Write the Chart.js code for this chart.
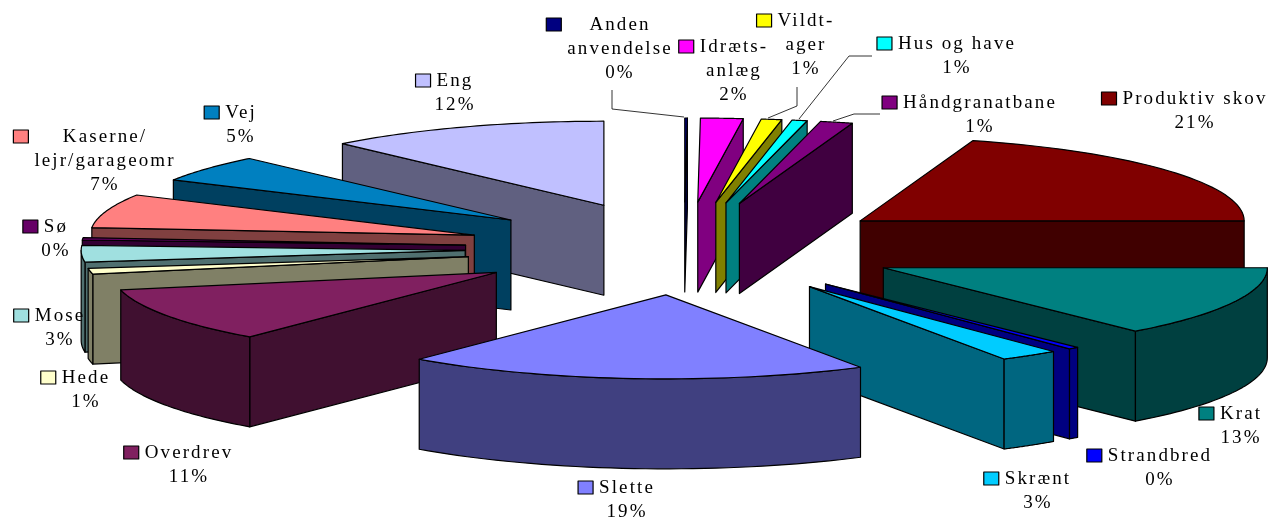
<!DOCTYPE html>
<html lang="da">
<head>
    <meta charset="UTF-8">
    <title>Arealanvendelse</title>
    <script src="https://cdn.jsdelivr.net/npm/chart.js"></script>
    <style>
        html, body {
            margin: 0;
            padding: 0;
            background-color: #ffffff;
        }

        #wrap {
            position: relative;
            width: 1269px;
            height: 518px;
            overflow: hidden;
        }
    </style>
</head>
<body>
    <div id="wrap">
        <canvas id="myChart" width="1269" height="518"></canvas>
    </div>

    <script>
        // data, clockwise from twelve o'clock
        const categories = [
            ['Anden', 'anvendelse'], ['Idræts-', 'anlæg'], ['Vildt-', 'ager'], ['Hus og have'],
            ['Håndgranatbane'], ['Produktiv skov'], ['Krat'], ['Strandbred'], ['Skrænt'],
            ['Slette'], ['Overdrev'], ['Hede'], ['Mose'], ['Sø'],
            ['Kaserne/', 'lejr/garageomr'], ['Vej'], ['Eng']
        ];
        // slice sizes as measured in the picture, the printed percentages are below
        const shares = [0.11, 1.78, 0.86, 0.64, 1.36, 20.25, 13.6, 0.44, 2.5, 19.56, 10.56, 1.1, 3.2, 0.45, 6.5, 5.17, 11.92];
        const percentLabels = ['0%', '2%', '1%', '1%', '1%', '21%', '13%', '0%', '3%', '19%', '11%', '1%', '3%', '0%', '7%', '5%', '12%'];
        const colors = [
            '#000080', '#ff00ff', '#ffff00', '#00ffff', '#800080', '#800000', '#008080', '#0000ff',
            '#00ccff', '#8080ff', '#802060', '#ffffcc', '#a0e0e0', '#660066', '#ff8080', '#0080c0', '#c0c0ff'
        ];

        // where the labels sit: [centre x, y of first line]
        const labelSpots = [
            [620, 25], [734, 47], [806, 21], [957, 44], [980, 103], [1195, 99], [1241, 414], [1160, 456],
            [1038, 479], [627, 488], [189, 453], [86, 378], [60, 316], [56, 227], [105, 137], [241, 113], [455, 81]
        ];
        const leaderLines = [
            [[612, 90], [612, 109], [684, 117]],
            [[797, 87], [797, 106], [768, 118]],
            [[872, 56], [849, 56], [799, 119]],
            [[880, 114], [854, 114], [833, 121]]
        ];

        // 3d look of the pie
        const centerX = 684, centerY = 248.5;
        const radiusX = 384, radiusY = 84;
        const explodeX = 219, explodeY = 46.5;
        const depth = 90;

        function halfColor(hex) {
            const n = parseInt(hex.slice(1), 16);
            return 'rgb(' + (n >> 16) / 2 + ',' + ((n >> 8) & 255) / 2 + ',' + (n & 255) / 2 + ')';
        }

        // fill and outline one closed shape
        function shape(ctx, pts, fill) {
            ctx.beginPath();
            pts.forEach((p, i) => i ? ctx.lineTo(p[0], p[1]) : ctx.moveTo(p[0], p[1]));
            ctx.closePath();
            if (fill) {
                ctx.fillStyle = fill;
                ctx.fill();
            }
            ctx.stroke();
        }

        function drawSlice(ctx, arc, index) {
            const start = arc.startAngle, end = arc.endAngle;
            const mid = (start + end) / 2;
            const ox = centerX + Math.cos(mid) * explodeX;
            const oy = centerY + Math.sin(mid) * explodeY;
            const rim = a => [ox + Math.cos(a) * radiusX, oy + Math.sin(a) * radiusY];
            const down = p => [p[0], p[1] + depth];
            const side = halfColor(colors[index]);

            ctx.lineWidth = 1.2;
            ctx.strokeStyle = '#000000';
            ctx.lineJoin = 'round';

            // radial walls, only the ones facing the viewer
            const wall = a => {
                const p = rim(a);
                shape(ctx, [[ox, oy], p, down(p), [ox, oy + depth]], side);
            };
            if (Math.cos(start) < 0) wall(start);
            if (Math.cos(end) > 0) wall(end);

            // curved outer wall, the front half of the rim
            const front = [];
            for (let turn = -1; turn <= 1; turn++) {
                const from = Math.max(start, turn * 2 * Math.PI);
                const to = Math.min(end, turn * 2 * Math.PI + Math.PI);
                if (to > from) front.push([from, to]);
            }
            front.forEach(([from, to]) => {
                const upper = [];
                for (let i = 0; i <= 40; i++) upper.push(rim(from + (to - from) * i / 40));
                shape(ctx, upper.concat(upper.slice().reverse().map(down)), side);
            });

            // the top face comes from the library's own arc element, squashed flat
            ctx.save();
            ctx.translate(ox, oy);
            ctx.scale(radiusX / arc.outerRadius, radiusY / arc.outerRadius);
            ctx.translate(-arc.x, -arc.y);
            arc.draw(ctx);
            ctx.restore();

            const top = [[ox, oy]];
            for (let i = 0; i <= 40; i++) top.push(rim(start + (end - start) * i / 40));
            shape(ctx, top, null);
        }

        function drawLabels(ctx) {
            ctx.font = "19px 'Liberation Serif'";
            ctx.letterSpacing = '2.1px';
            ctx.textAlign = 'center';
            ctx.textBaseline = 'middle';
            categories.forEach((lines, i) => {
                const [x, y] = labelSpots[i];
                const all = lines.concat(percentLabels[i]);
                ctx.fillStyle = '#000000';
                all.forEach((line, k) => ctx.fillText(line, x, y + k * 24));

                // legend key left of the widest line
                const widest = Math.max(...lines.map(l => ctx.measureText(l).width));
                ctx.fillStyle = colors[i];
                ctx.strokeStyle = '#000000';
                ctx.lineWidth = 1.2;
                ctx.fillRect(x - widest / 2 - 21, y - 7, 15, 13);
                ctx.strokeRect(x - widest / 2 - 21, y - 7, 15, 13);
            });

            ctx.strokeStyle = '#000000';
            ctx.lineWidth = 0.8;
            leaderLines.forEach(line => {
                ctx.beginPath();
                line.forEach((p, i) => i ? ctx.lineTo(p[0], p[1]) : ctx.moveTo(p[0], p[1]));
                ctx.stroke();
            });
        }

        const pie3d = {
            id: 'pie3d',
            beforeDatasetsDraw(chart) {
                const ctx = chart.ctx;
                const arcs = chart.getDatasetMeta(0).data;
                // back slices first, the ones nearest the viewer last
                const order = arcs.map((arc, i) => i).sort((a, b) =>
                    Math.sin((arcs[a].startAngle + arcs[a].endAngle) / 2) -
                    Math.sin((arcs[b].startAngle + arcs[b].endAngle) / 2));
                order.forEach(i => drawSlice(ctx, arcs[i], i));
                drawLabels(ctx);
                return false;
            }
        };

        new Chart(document.getElementById('myChart').getContext('2d'), {
            type: 'pie',
            data: {
                labels: categories.map(c => c.join(' ')),
                datasets: [{
                    data: shares,
                    backgroundColor: colors,
                    borderWidth: 0
                }]
            },
            options: {
                responsive: false,
                animation: false,
                rotation: 0,
                plugins: {
                    legend: { display: false },
                    tooltip: { enabled: false }
                }
            },
            plugins: [pie3d]
        });
    </script>
</body>
</html>
